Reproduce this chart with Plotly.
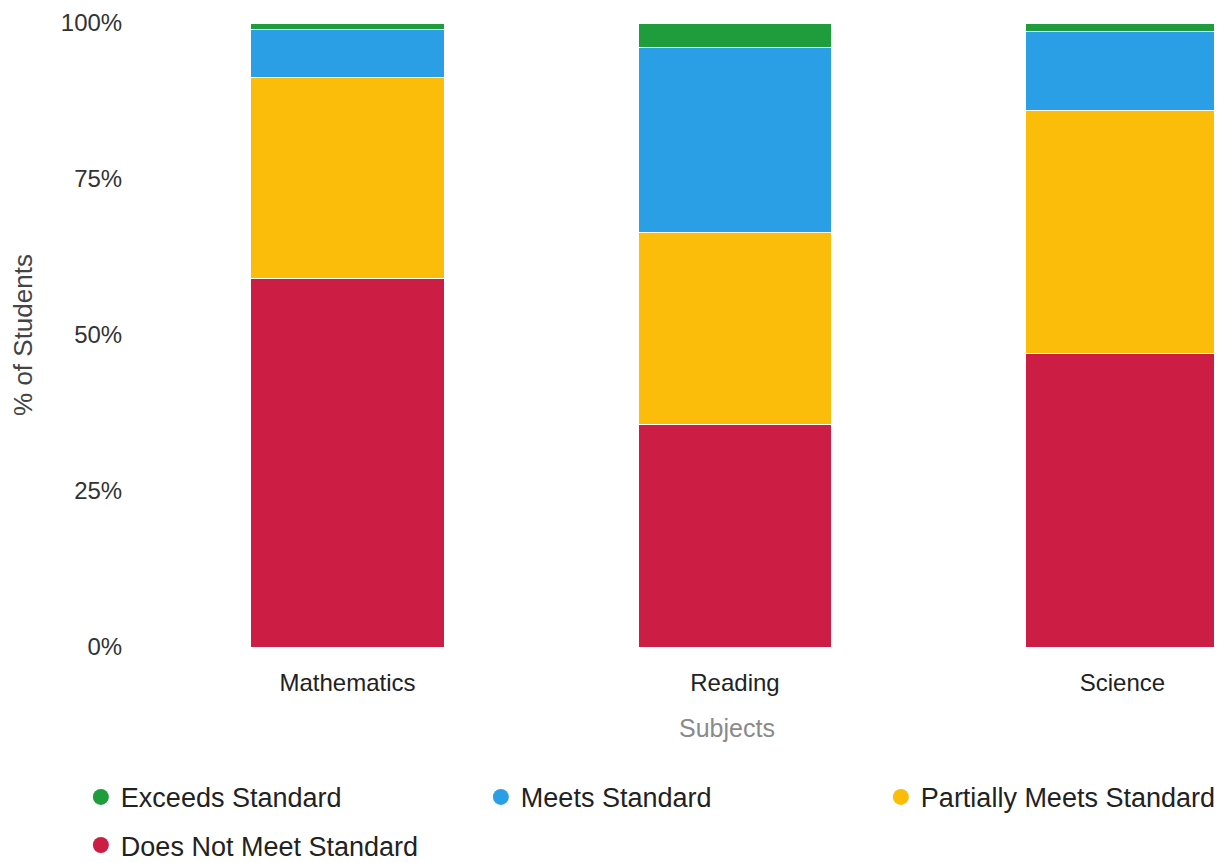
import plotly.graph_objects as go

subjects = ["Mathematics", "Reading", "Science"]
levels = ["Exceeds Standard", "Meets Standard", "Partially Meets Standard", "Does Not Meet Standard"]
colors = ["#1f9c3c", "#2b9fe6", "#fbbc0a", "#cc1d45"]

exceeds = [1.0, 4.0, 1.4]
meets = [7.7, 29.6, 12.7]
partially = [32.3, 30.8, 38.9]
not_meet = [59.0, 35.6, 47.0]

values = [exceeds, meets, partially, not_meet]

fig = go.Figure()

# stacked from bottom: Does Not Meet first
for name, vals, color in reversed(list(zip(levels, values, colors))):
    fig.add_trace(
        go.Bar(
            x=subjects,
            y=vals,
            name=name,
            marker=dict(color=color, line=dict(color="white", width=1)),
            width=0.5,
            showlegend=False,
        )
    )

# round legend markers, first row in legend, last item in legend2
for i, (name, color) in enumerate(zip(levels, colors)):
    fig.add_trace(
        go.Scatter(
            x=[None],
            y=[None],
            mode="markers",
            name=name,
            marker=dict(size=24, color=color, symbol="circle"),
            legend="legend" if i < 3 else "legend2",
        )
    )

legend_style = dict(
    orientation="h",
    x=-0.066,
    xanchor="left",
    yanchor="middle",
    entrywidth=355,
    entrywidthmode="pixels",
    font=dict(size=27, color="#222222"),
    itemsizing="trace",
    traceorder="normal",
    bgcolor="rgba(0,0,0,0)",
)

fig.update_layout(
    width=1222,
    height=863,
    barmode="stack",
    margin=dict(l=144, r=0, t=15, b=224, autoexpand=False),
    paper_bgcolor="white",
    plot_bgcolor="white",
    font=dict(family="Liberation Sans, Arial, sans-serif", color="#333333"),
    legend=dict(legend_style, y=-0.241),
    legend2=dict(legend_style, y=-0.318),
    xaxis=dict(
        range=[-0.5045, 2.2775],
        showgrid=False,
        showline=False,
        zeroline=False,
        ticks="outside",
        ticklen=14,
        tickcolor="rgba(0,0,0,0)",
        tickfont=dict(size=24, color="#222222"),
    ),
    yaxis=dict(
        range=[0, 100],
        tickvals=[0, 25, 50, 75, 100],
        ticktext=["0%", "25%", "50%", "75%", "100%"],
        showgrid=False,
        zeroline=False,
        showline=False,
        ticks="outside",
        ticklen=24,
        tickcolor="rgba(0,0,0,0)",
        ticklabeloverflow="allow",
        tickfont=dict(size=24, color="#333333"),
        title=dict(text="% of Students", font=dict(size=26, color="#444444"), standoff=42),
    ),
    annotations=[
        dict(
            text="Subjects",
            xref="paper",
            yref="paper",
            x=0.533,
            y=-0.13,
            xanchor="center",
            yanchor="middle",
            showarrow=False,
            font=dict(size=25, color="#8a8a8a"),
        )
    ],
)

fig.write_html("out.html")
